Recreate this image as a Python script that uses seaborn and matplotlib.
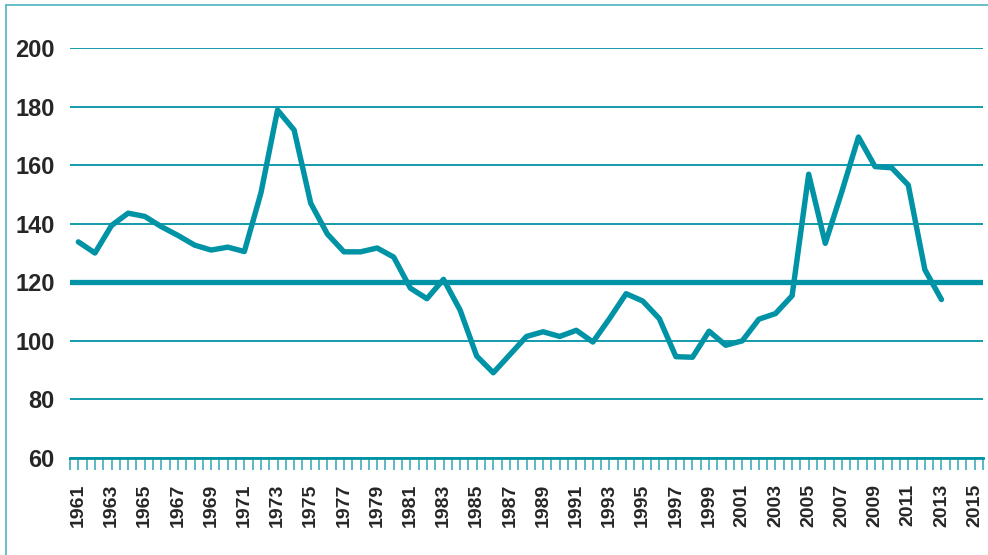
import pandas as pd
import matplotlib.pyplot as plt
import seaborn as sns
from matplotlib.ticker import MultipleLocator
from matplotlib.lines import Line2D

# Data (index, 1961-2013)
years = list(range(1961, 2014))
index_values = [133.8, 130.0, 139.4, 143.6, 142.5, 139.0, 136.0, 132.7, 131.0, 132.0,
                130.5, 150.5, 178.8, 172.0, 147.0, 136.5, 130.4, 130.4, 131.7, 128.6,
                118.0, 114.4, 121.0, 110.5, 94.8, 89.1, 95.3, 101.5, 103.1, 101.5,
                103.6, 99.6, 107.6, 116.1, 113.6, 107.6, 94.6, 94.4, 103.3, 98.5,
                100.0, 107.4, 109.3, 115.4, 156.9, 133.3, 151.0, 169.6, 159.5, 159.1,
                153.2, 124.3, 114.1]
reference_level = 120
y_ticks = [60, 80, 100, 120, 140, 160, 180, 200]
x_labels = list(range(1961, 2016, 2))

df = pd.DataFrame({'Year': years, 'Index': index_values})

teal = '#0093A6'

sns.set_style('white')
plt.rcParams['font.family'] = ['Liberation Sans Narrow', 'Liberation Sans', 'DejaVu Sans']
plt.rcParams['font.weight'] = 'bold'

fig = plt.figure(figsize=(9.88, 5.55), dpi=100)
ax = fig.add_axes([0.0709, 0.1748, 0.924, 0.7387])

# Horizontal grid lines and the thick reference line
ax.yaxis.grid(True, color=teal, lw=1.3)
ax.set_axisbelow(True)
ax.axhline(reference_level, color=teal, lw=3.8, zorder=2)

sns.lineplot(data=df, x='Year', y='Index', color=teal, lw=3.9, ax=ax, zorder=3)

ax.set_xlim(1960.5, 2015.5)
ax.set_ylim(60, 200)
ax.set_yticks(y_ticks)
ax.set_yticklabels([str(v) for v in y_ticks], fontsize=17, fontweight='bold')
ax.set_xticks(x_labels)
ax.set_xticklabels([str(v) for v in x_labels], rotation=90, fontsize=14, fontweight='bold')
ax.xaxis.set_minor_locator(MultipleLocator(0.5))

ax.tick_params(axis='x', which='both', bottom=True, length=8.5, width=1.1,
               color='#2FA3B4', direction='out', pad=10)
ax.tick_params(axis='y', left=False, length=0, pad=11)
ax.set_xlabel('')
ax.set_ylabel('')

for side in ['top', 'right', 'left']:
    ax.spines[side].set_visible(False)
ax.spines['bottom'].set_color(teal)
ax.spines['bottom'].set_linewidth(2)

# Frame around the picture (left and top edges are visible)
fig.add_artist(Line2D([6 / 988, 6 / 988], [0, 1 - 5 / 555], transform=fig.transFigure,
                      color='#4FB3C2', lw=1.2))
fig.add_artist(Line2D([6 / 988, 1], [1 - 5 / 555, 1 - 5 / 555], transform=fig.transFigure,
                      color='#4FB3C2', lw=1.2))

fig.savefig('out.png', dpi=100)
